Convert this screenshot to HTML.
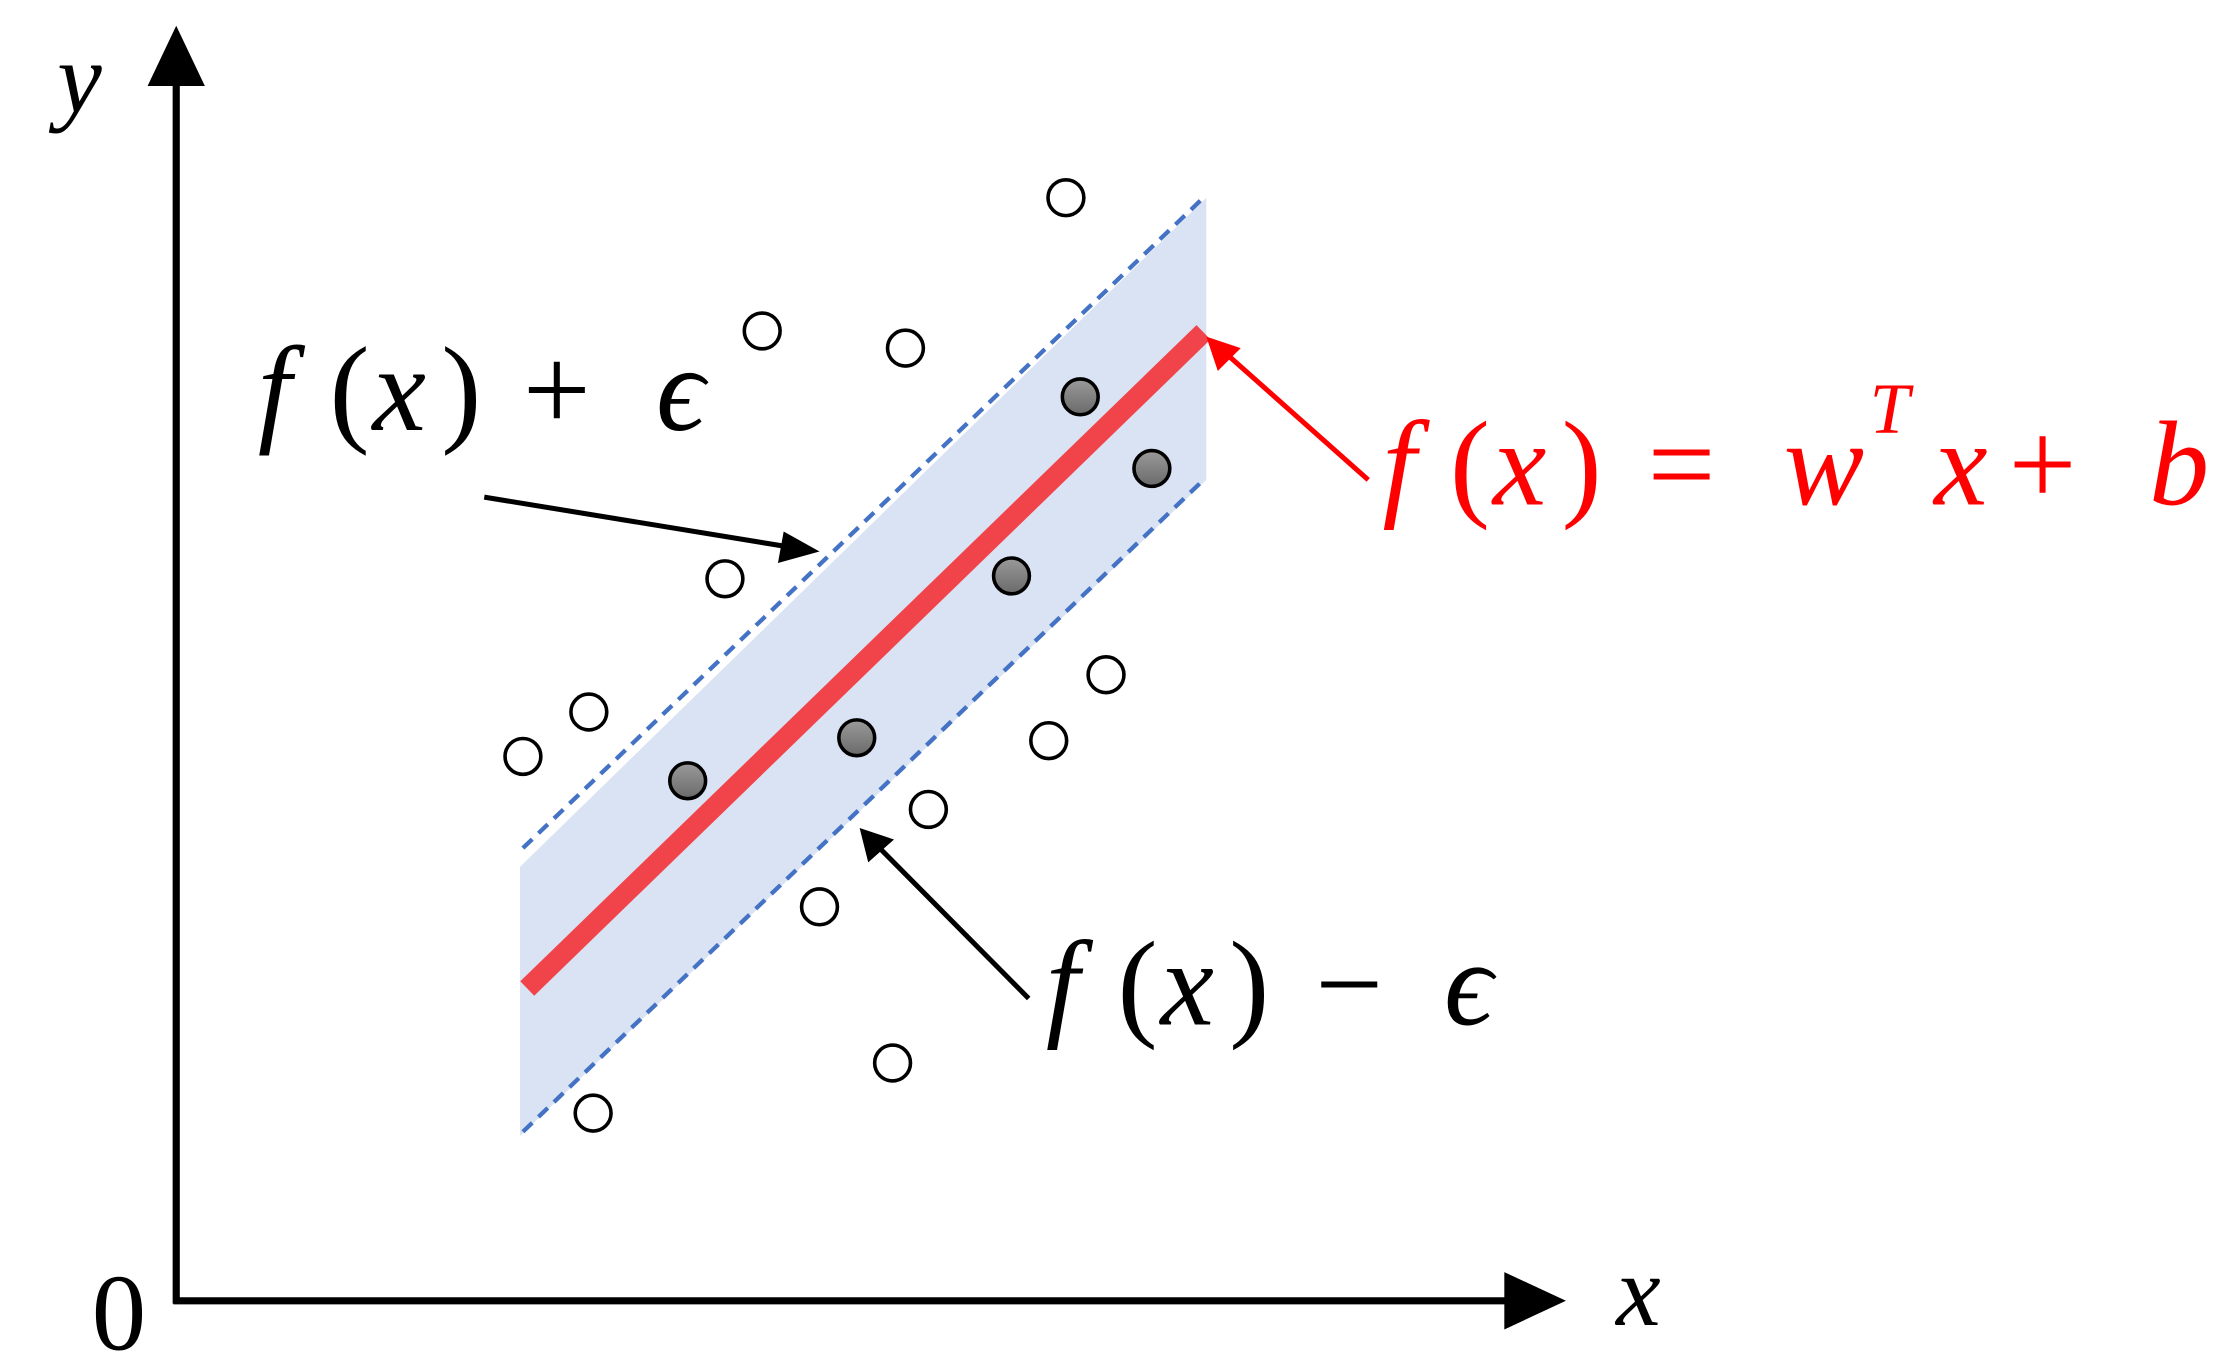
<!DOCTYPE html>
<html><head><meta charset="utf-8"><style>html,body{margin:0;padding:0;background:#fff;}svg{display:block;}
.m{font-family:"Liberation Serif","DejaVu Serif",serif;font-style:italic;}
.u{font-family:"Liberation Serif","DejaVu Serif",serif;font-style:normal;}
</style></head>
<body>
<svg width="2235" height="1371" viewBox="0 0 1560 957" preserveAspectRatio="none" xmlns="http://www.w3.org/2000/svg">
<defs>
<linearGradient id="g" x1="0" y1="0" x2="0" y2="1"><stop offset="0" stop-color="#9a9a9a"/><stop offset="1" stop-color="#6a6a6a"/></linearGradient>
</defs>
<polygon points="363,605 842,138 842,335 363,793" fill="#dae3f3"/>
<line x1="365" y1="592" x2="840" y2="138" stroke="#4472c4" stroke-width="3" stroke-dasharray="9 6"/>
<line x1="365" y1="790" x2="840" y2="335" stroke="#4472c4" stroke-width="3" stroke-dasharray="9 6"/>
<line x1="368" y1="690" x2="840" y2="232" stroke="#f0444a" stroke-width="14"/>
<g fill="#fff" stroke="#000" stroke-width="2.5">
<circle cx="744" cy="138" r="12.5"/><circle cx="532" cy="231" r="12.5"/><circle cx="632" cy="243" r="12.5"/>
<circle cx="506" cy="404" r="12.5"/><circle cx="411" cy="497" r="12.5"/><circle cx="365" cy="528" r="12.5"/>
<circle cx="772" cy="471" r="12.5"/><circle cx="732" cy="517" r="12.5"/><circle cx="648" cy="565" r="12.5"/>
<circle cx="572" cy="633" r="12.5"/><circle cx="623" cy="742" r="12.5"/><circle cx="414" cy="777" r="12.5"/>
</g>
<g fill="url(#g)" stroke="#000" stroke-width="2.5">
<circle cx="754" cy="277" r="12.5"/><circle cx="804" cy="327" r="12.5"/><circle cx="706" cy="402" r="12.5"/>
<circle cx="598" cy="515" r="12.5"/><circle cx="480" cy="545" r="12.5"/>
</g>
<line x1="123" y1="910" x2="123" y2="55" stroke="#000" stroke-width="5"/>
<polygon points="123,18 103,60 143,60" fill="#000"/>
<line x1="121" y1="908" x2="1055" y2="908" stroke="#000" stroke-width="5"/>
<polygon points="1093,908 1050,888 1050,928" fill="#000"/>
<line x1="338" y1="347" x2="552" y2="382" stroke="#000" stroke-width="3.5"/>
<polygon points="572,385 547,371 543,393" fill="#000"/>
<line x1="718" y1="697" x2="612" y2="590" stroke="#000" stroke-width="3.5"/>
<polygon points="600,578 606,602 624,586" fill="#000"/>
<line x1="955" y1="335" x2="856" y2="247" stroke="#ff0000" stroke-width="3.5"/>
<polygon points="842,235 850,259 866,243" fill="#ff0000"/>

<text class="m" x="40" y="78" font-size="70">y</text>
<text class="m" x="1128" y="925" font-size="70">x</text>
<text class="u" x="64" y="942" font-size="76">0</text>

<g font-size="84">
<text class="m" x="180" y="300">f</text>
<text class="u" x="230" y="300">(</text>
<text class="m" x="260" y="300">x</text>
<text class="u" x="308" y="300">)</text>
<text class="u" x="365" y="300">+</text>
<text class="m" x="458" y="300">ϵ</text>

<text class="m" x="730" y="715">f</text>
<text class="u" x="780" y="715">(</text>
<text class="m" x="810" y="715">x</text>
<text class="u" x="858" y="715">)</text>
<text class="u" x="918" y="715">−</text>
<text class="m" x="1008" y="715">ϵ</text>
</g>
<g font-size="84" fill="#ff0000">
<text class="m" x="965" y="352">f</text>
<text class="u" x="1012" y="352">(</text>
<text class="m" x="1042" y="352">x</text>
<text class="u" x="1090" y="352">)</text>
<text class="u" x="1150" y="352">=</text>
<text class="m" x="1245" y="352">w</text>
<text class="m" x="1305" y="302" font-size="50">T</text>
<text class="m" x="1350" y="352">x</text>
<text class="u" x="1402" y="352">+</text>
<text class="m" x="1500" y="352">b</text>
</g>
</svg>
</body></html>
